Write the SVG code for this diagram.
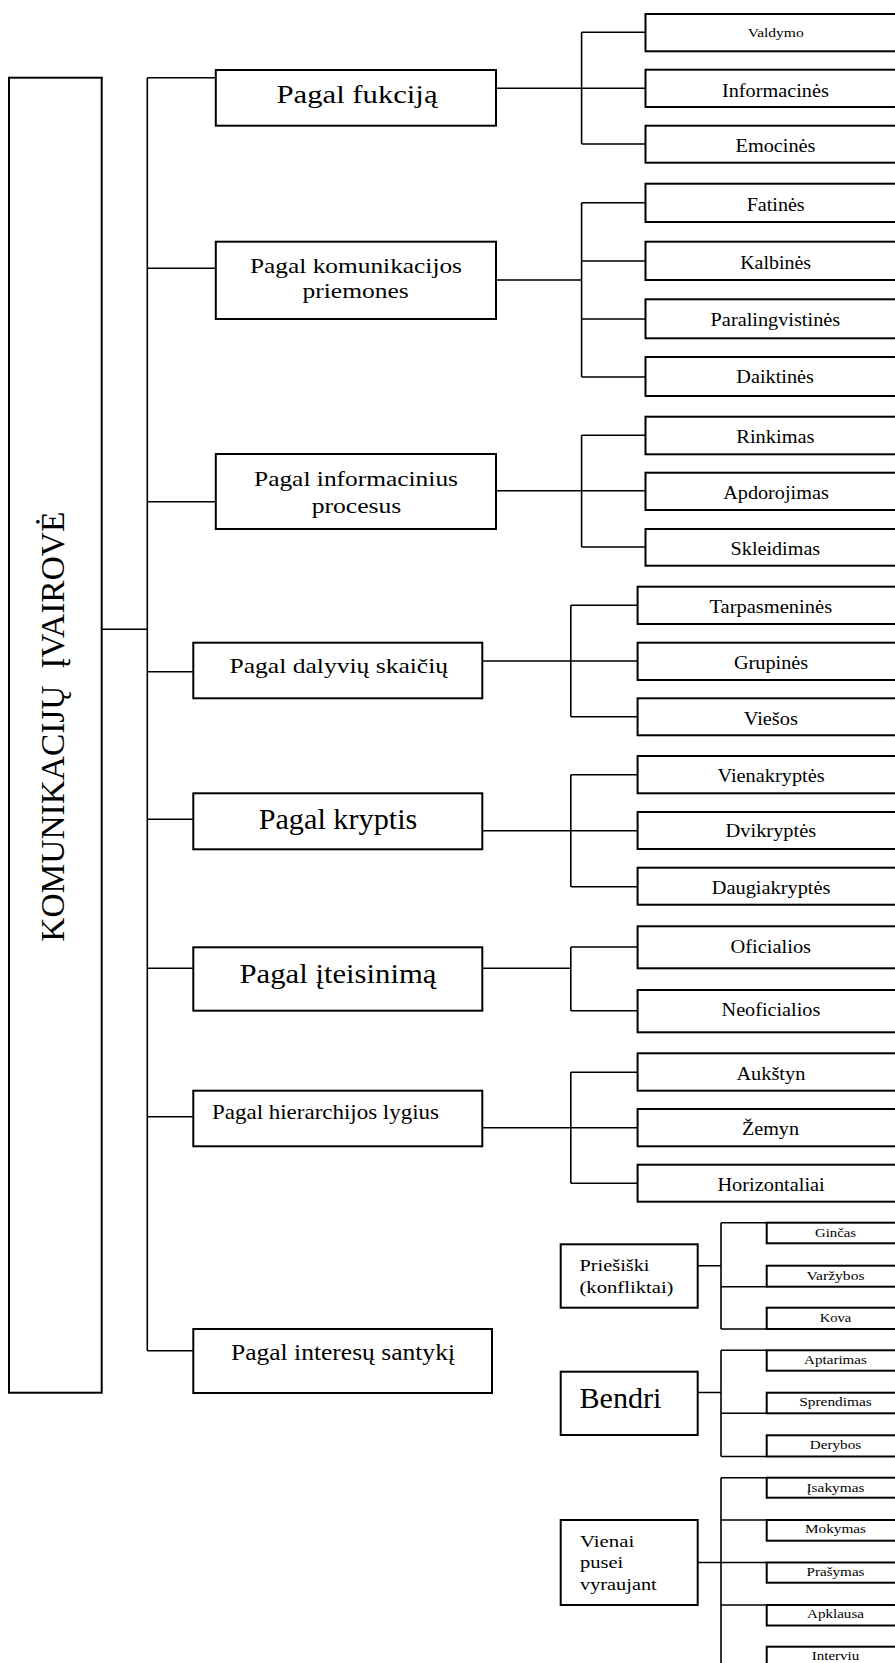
<svg xmlns="http://www.w3.org/2000/svg" width="895" height="1663" viewBox="0 0 895 1663">
<style>
.b rect{fill:#fff;stroke:#000;stroke-width:2}
.c path{fill:none;stroke:#000;stroke-width:1.6}
text{font-family:"Liberation Serif","Times New Roman",serif;fill:#000}
.m{text-anchor:middle}
.f19{font-size:19px}
.f13{font-size:13px}
</style>
<rect width="895" height="1663" fill="#fff"/>
<g class="c" id="connectors">
<path d="M101.7 629.3H147.3M147.3 77.7V1350.7"/>
<path d="M147.3 77.7H215.8M147.3 268.3H215.8M147.3 501.7H215.8M147.3 671.7H193.3M147.3 819.3H193.3M147.3 968.3H193.3M147.3 1116.7H193.3M147.3 1350.7H193.3"/>
<path d="M496 88.3H645.5M581.6 32.3V144M581.6 32.3H645.5M581.6 144H645.5"/>
<path d="M496 280H581.6M581.6 202.7V377M581.6 202.7H645.5M581.6 261H645.5M581.6 319H645.5M581.6 377H645.5"/>
<path d="M496 490.7H645.5M581.6 435.3V547M581.6 435.3H645.5M581.6 547H645.5"/>
<path d="M482.3 661H637.6M570.8 605.3V716.7M570.8 605.3H637.6M570.8 716.7H637.6"/>
<path d="M482.3 830.7H637.6M570.8 774.7V886.7M570.8 774.7H637.6M570.8 886.7H637.6"/>
<path d="M482.3 968.3H570.8M570.8 947V1010.7M570.8 947H637.6M570.8 1010.7H637.6"/>
<path d="M482.3 1127.7H637.6M570.8 1072.3V1183.3M570.8 1072.3H637.6M570.8 1183.3H637.6"/>
<path d="M697.7 1265.7H721M721 1222.7V1329M721 1222.7H766.7M721 1286.7H766.7M721 1329H766.7"/>
<path d="M697.7 1392.5H721M721 1350.3V1456.5M721 1350.3H766.7M721 1413.3H766.7M721 1456.5H766.7"/>
<path d="M697.7 1562.5H766.7M721 1477.7V1663M721 1477.7H766.7M721 1520H766.7M721 1605H766.7"/>
</g>
<g class="b">
<g id="root">
<rect x="9" y="77.7" width="92.7" height="1315"/>
<text transform="translate(63.5 726.7) rotate(-90)" class="m" font-size="34" textLength="430" lengthAdjust="spacingAndGlyphs" xml:space="preserve">KOMUNIKACIJŲ  ĮVAIROVĖ</text>
</g>
<g id="n1"><rect x="215.8" y="70" width="280.2" height="55.7"/><text x="357" y="103.3" class="m" font-size="25" textLength="161" lengthAdjust="spacingAndGlyphs">Pagal fukciją</text></g>
<g id="n2"><rect x="215.8" y="241.7" width="280.2" height="77.3"/><text x="356" y="272.7" class="m" font-size="21.5" textLength="212" lengthAdjust="spacingAndGlyphs">Pagal komunikacijos</text><text x="355.6" y="297.5" class="m" font-size="21.5" textLength="106" lengthAdjust="spacingAndGlyphs">priemones</text></g>
<g id="n3"><rect x="215.8" y="454" width="280.2" height="75"/><text x="356" y="485.7" class="m" font-size="22" textLength="204" lengthAdjust="spacingAndGlyphs">Pagal informacinius</text><text x="356.5" y="512.5" class="m" font-size="22" textLength="89.6" lengthAdjust="spacingAndGlyphs">procesus</text></g>
<g id="n4"><rect x="193.3" y="642.7" width="289" height="55.6"/><text x="338.8" y="672.7" class="m" font-size="21.5" textLength="218.5" lengthAdjust="spacingAndGlyphs">Pagal dalyvių skaičių</text></g>
<g id="n5"><rect x="193.3" y="793.3" width="289" height="56"/><text x="338" y="829.3" class="m" font-size="29" textLength="158.7" lengthAdjust="spacingAndGlyphs">Pagal kryptis</text></g>
<g id="n6"><rect x="193.3" y="947.3" width="289" height="63.4"/><text x="338" y="982.7" class="m" font-size="27.5" textLength="197" lengthAdjust="spacingAndGlyphs">Pagal įteisinimą</text></g>
<g id="n7"><rect x="193.3" y="1090.7" width="289" height="55.6"/><text x="212" y="1119.3" font-size="21" textLength="227" lengthAdjust="spacingAndGlyphs">Pagal hierarchijos lygius</text></g>
<g id="n8"><rect x="193.3" y="1329" width="298.7" height="64"/><text x="343" y="1360" class="m" font-size="22.5" textLength="224" lengthAdjust="spacingAndGlyphs">Pagal interesų santykį</text></g>

<g id="c1a"><rect x="645.5" y="14" width="260" height="37.3"/><text x="775.7" y="36.5" class="m f13" textLength="56" lengthAdjust="spacingAndGlyphs">Valdymo</text></g>
<g id="c1b"><rect x="645.5" y="69.7" width="260" height="37.3"/><text x="775.4" y="96.7" class="m f19" textLength="106.8" lengthAdjust="spacingAndGlyphs">Informacinės</text></g>
<g id="c1c"><rect x="645.5" y="125.7" width="260" height="37"/><text x="775.5" y="151.7" class="m" font-size="18" textLength="80" lengthAdjust="spacingAndGlyphs">Emocinės</text></g>
<g id="c2a"><rect x="645.5" y="183.7" width="260" height="38.3"/><text x="775.7" y="210.7" class="m f19" textLength="58" lengthAdjust="spacingAndGlyphs">Fatinės</text></g>
<g id="c2b"><rect x="645.5" y="241.7" width="260" height="38.3"/><text x="775.6" y="268.7" class="m f19" textLength="70.8" lengthAdjust="spacingAndGlyphs">Kalbinės</text></g>
<g id="c2c"><rect x="645.5" y="299.3" width="260" height="39"/><text x="775.4" y="326" class="m f19" textLength="129.6" lengthAdjust="spacingAndGlyphs">Paralingvistinės</text></g>
<g id="c2d"><rect x="645.5" y="357" width="260" height="39"/><text x="775.1" y="383.3" class="m f19" textLength="77.7" lengthAdjust="spacingAndGlyphs">Daiktinės</text></g>
<g id="c3a"><rect x="645.5" y="416.7" width="260" height="37.6"/><text x="775.4" y="442.7" class="m f19" textLength="78.2" lengthAdjust="spacingAndGlyphs">Rinkimas</text></g>
<g id="c3b"><rect x="645.5" y="472.7" width="260" height="37.3"/><text x="776" y="499" class="m f19" textLength="105.6" lengthAdjust="spacingAndGlyphs">Apdorojimas</text></g>
<g id="c3c"><rect x="645.5" y="529" width="260" height="36.7"/><text x="775.4" y="555" class="m f19" textLength="89.6" lengthAdjust="spacingAndGlyphs">Skleidimas</text></g>
<g id="c4a"><rect x="637.6" y="586.7" width="270" height="37.3"/><text x="770.8" y="613.3" class="m f19" textLength="122.7" lengthAdjust="spacingAndGlyphs">Tarpasmeninės</text></g>
<g id="c4b"><rect x="637.6" y="642.7" width="270" height="37.3"/><text x="771.1" y="668.7" class="m f19" textLength="74.2" lengthAdjust="spacingAndGlyphs">Grupinės</text></g>
<g id="c4c"><rect x="637.6" y="698.3" width="270" height="37"/><text x="770.8" y="725" class="m f19" textLength="54.3" lengthAdjust="spacingAndGlyphs">Viešos</text></g>
<g id="c5a"><rect x="637.6" y="756" width="270" height="37.3"/><text x="771.1" y="781.7" class="m f19" textLength="107.3" lengthAdjust="spacingAndGlyphs">Vienakryptės</text></g>
<g id="c5b"><rect x="637.6" y="812" width="270" height="37"/><text x="770.9" y="837.3" class="m f19" textLength="90.7" lengthAdjust="spacingAndGlyphs">Dvikryptės</text></g>
<g id="c5c"><rect x="637.6" y="867.7" width="270" height="37"/><text x="771.1" y="893.7" class="m f19" textLength="118.7" lengthAdjust="spacingAndGlyphs">Daugiakryptės</text></g>
<g id="c6a"><rect x="637.6" y="926.3" width="270" height="42"/><text x="770.8" y="953" class="m f19" textLength="80.5" lengthAdjust="spacingAndGlyphs">Oficialios</text></g>
<g id="c6b"><rect x="637.6" y="990" width="270" height="42.3"/><text x="770.9" y="1016" class="m f19" textLength="98.7" lengthAdjust="spacingAndGlyphs">Neoficialios</text></g>
<g id="c7a"><rect x="637.6" y="1053.3" width="270" height="37.4"/><text x="770.9" y="1080" class="m f19" textLength="69" lengthAdjust="spacingAndGlyphs">Aukštyn</text></g>
<g id="c7b"><rect x="637.6" y="1109" width="270" height="37.3"/><text x="770.5" y="1135" class="m f19" textLength="57" lengthAdjust="spacingAndGlyphs">Žemyn</text></g>
<g id="c7c"><rect x="637.6" y="1164.7" width="270" height="37"/><text x="771.1" y="1190.7" class="m f19" textLength="107.3" lengthAdjust="spacingAndGlyphs">Horizontaliai</text></g>

<g id="s1"><rect x="560.7" y="1244.3" width="137" height="63.4"/><text x="579.5" y="1271" font-size="17.5" textLength="70" lengthAdjust="spacingAndGlyphs">Priešiški</text><text x="579.5" y="1292.5" font-size="17.5" textLength="94" lengthAdjust="spacingAndGlyphs">(konfliktai)</text></g>
<g id="s2"><rect x="560.7" y="1371.7" width="137" height="63.3"/><text x="579.5" y="1407.5" font-size="29" textLength="82" lengthAdjust="spacingAndGlyphs">Bendri</text></g>
<g id="s3"><rect x="560.7" y="1520" width="137" height="85"/><text x="580" y="1546.7" font-size="17" textLength="54.3" lengthAdjust="spacingAndGlyphs">Vienai</text><text x="580" y="1567.5" font-size="17" textLength="43.3" lengthAdjust="spacingAndGlyphs">pusei</text><text x="580" y="1589.5" font-size="17" textLength="76.7" lengthAdjust="spacingAndGlyphs">vyraujant</text></g>

<g id="g1"><rect x="766.7" y="1222.7" width="140" height="20.6"/><text x="835.5" y="1236.7" class="m f13" textLength="41" lengthAdjust="spacingAndGlyphs">Ginčas</text></g>
<g id="g2"><rect x="766.7" y="1265.7" width="140" height="21"/><text x="835.5" y="1280" class="m f13" textLength="58" lengthAdjust="spacingAndGlyphs">Varžybos</text></g>
<g id="g3"><rect x="766.7" y="1307.7" width="140" height="21.3"/><text x="835.5" y="1321.7" class="m f13" textLength="31.4" lengthAdjust="spacingAndGlyphs">Kova</text></g>
<g id="b1"><rect x="766.7" y="1350.3" width="140" height="20.4"/><text x="835.5" y="1364" class="m f13" textLength="62.8" lengthAdjust="spacingAndGlyphs">Aptarimas</text></g>
<g id="b2"><rect x="766.7" y="1392.7" width="140" height="20.6"/><text x="835.5" y="1405.5" class="m f13" textLength="72.5" lengthAdjust="spacingAndGlyphs">Sprendimas</text></g>
<g id="b3"><rect x="766.7" y="1435.3" width="140" height="21.2"/><text x="835.5" y="1448.5" class="m f13" textLength="51.4" lengthAdjust="spacingAndGlyphs">Derybos</text></g>
<g id="v1"><rect x="766.7" y="1477.7" width="140" height="20"/><text x="835.5" y="1491.7" class="m f13" textLength="58" lengthAdjust="spacingAndGlyphs">Įsakymas</text></g>
<g id="v2"><rect x="766.7" y="1520" width="140" height="20.7"/><text x="835.5" y="1533.3" class="m f13" textLength="61" lengthAdjust="spacingAndGlyphs">Mokymas</text></g>
<g id="v3"><rect x="766.7" y="1562.5" width="140" height="20.2"/><text x="835.5" y="1575.7" class="m f13" textLength="58" lengthAdjust="spacingAndGlyphs">Prašymas</text></g>
<g id="v4"><rect x="766.7" y="1605" width="140" height="20.5"/><text x="835.5" y="1618.3" class="m f13" textLength="57" lengthAdjust="spacingAndGlyphs">Apklausa</text></g>
<g id="v5"><rect x="766.7" y="1646.7" width="140" height="30"/><text x="835.5" y="1660" class="m f13" textLength="47.4" lengthAdjust="spacingAndGlyphs">Interviu</text></g>
</g>
</svg>
